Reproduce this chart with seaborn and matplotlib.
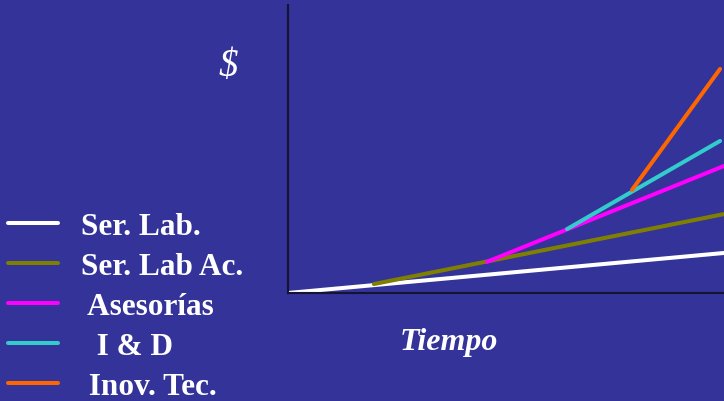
import matplotlib
matplotlib.use("Agg")
import matplotlib.pyplot as plt
import pandas as pd
import seaborn as sns

# series: each is a straight segment (start -> end) in arbitrary time / $ units
SERIES = ["Ser. Lab.", "Ser. Lab Ac.", " Asesorías", "  I & D", " Inov. Tec."]
X_START = [0.0, 1.97, 4.56, 6.40, 7.89]
X_END = [10.0, 10.0, 10.0, 9.91, 9.91]
Y_START = [0.0, 0.31, 1.08, 2.22, 3.58]
Y_END = [1.39, 2.74, 4.41, 5.28, 7.78]
COLORS = ["#ffffff", "#808000", "#ff00ff", "#33cccc", "#ff6600"]

BG = "#333399"
AXIS_COLOR = "#141432"

rows = []
for name, x0, x1, y0, y1 in zip(SERIES, X_START, X_END, Y_START, Y_END):
    rows.append({"serie": name, "t": x0, "v": y0})
    rows.append({"serie": name, "t": x1, "v": y1})
df = pd.DataFrame(rows)

sns.set_style("white")
plt.rcParams["font.family"] = ["Liberation Serif", "DejaVu Serif"]

fig = plt.figure(figsize=(7.24, 4.02), dpi=100, facecolor=BG)
ax = fig.add_axes([288 / 724, 108 / 402, 436 / 724, 288 / 402])
ax.set_facecolor(BG)

sns.lineplot(data=df, x="t", y="v", hue="serie", hue_order=SERIES,
             palette=dict(zip(SERIES, COLORS)), estimator=None, sort=False,
             linewidth=2.9, ax=ax, legend=True)

ax.set_xlim(0, 10)
ax.set_ylim(0, 10)
ax.set_xticks([]); ax.set_yticks([])
ax.set_xlabel(""); ax.set_ylabel("")
for side in ("top", "right"):
    ax.spines[side].set_visible(False)
for side in ("left", "bottom"):
    ax.spines[side].set_color(AXIS_COLOR)
    ax.spines[side].set_linewidth(1.5)

ax.text(-0.138, 0.79, "$", transform=ax.transAxes, ha="center", va="center",
        fontsize=28, fontstyle="italic", color="white", clip_on=False)
ax.text(0.369, -0.167, "Tiempo", transform=ax.transAxes, ha="center", va="center",
        fontsize=23, fontstyle="italic", fontweight="bold", color="white", clip_on=False)

handles, labels = ax.get_legend_handles_labels()
ax.get_legend().remove()
leg = fig.legend(handles, labels, loc="upper left", bbox_to_anchor=(0.011, 0.4695),
                 frameon=False, borderpad=0, borderaxespad=0,
                 handlelength=1.6, handletextpad=0.75, labelspacing=0.35,
                 prop={"size": 22.5, "weight": "bold"})
for t in leg.get_texts():
    t.set_color("white")

fig.savefig("out.png", dpi=100, facecolor=BG)
